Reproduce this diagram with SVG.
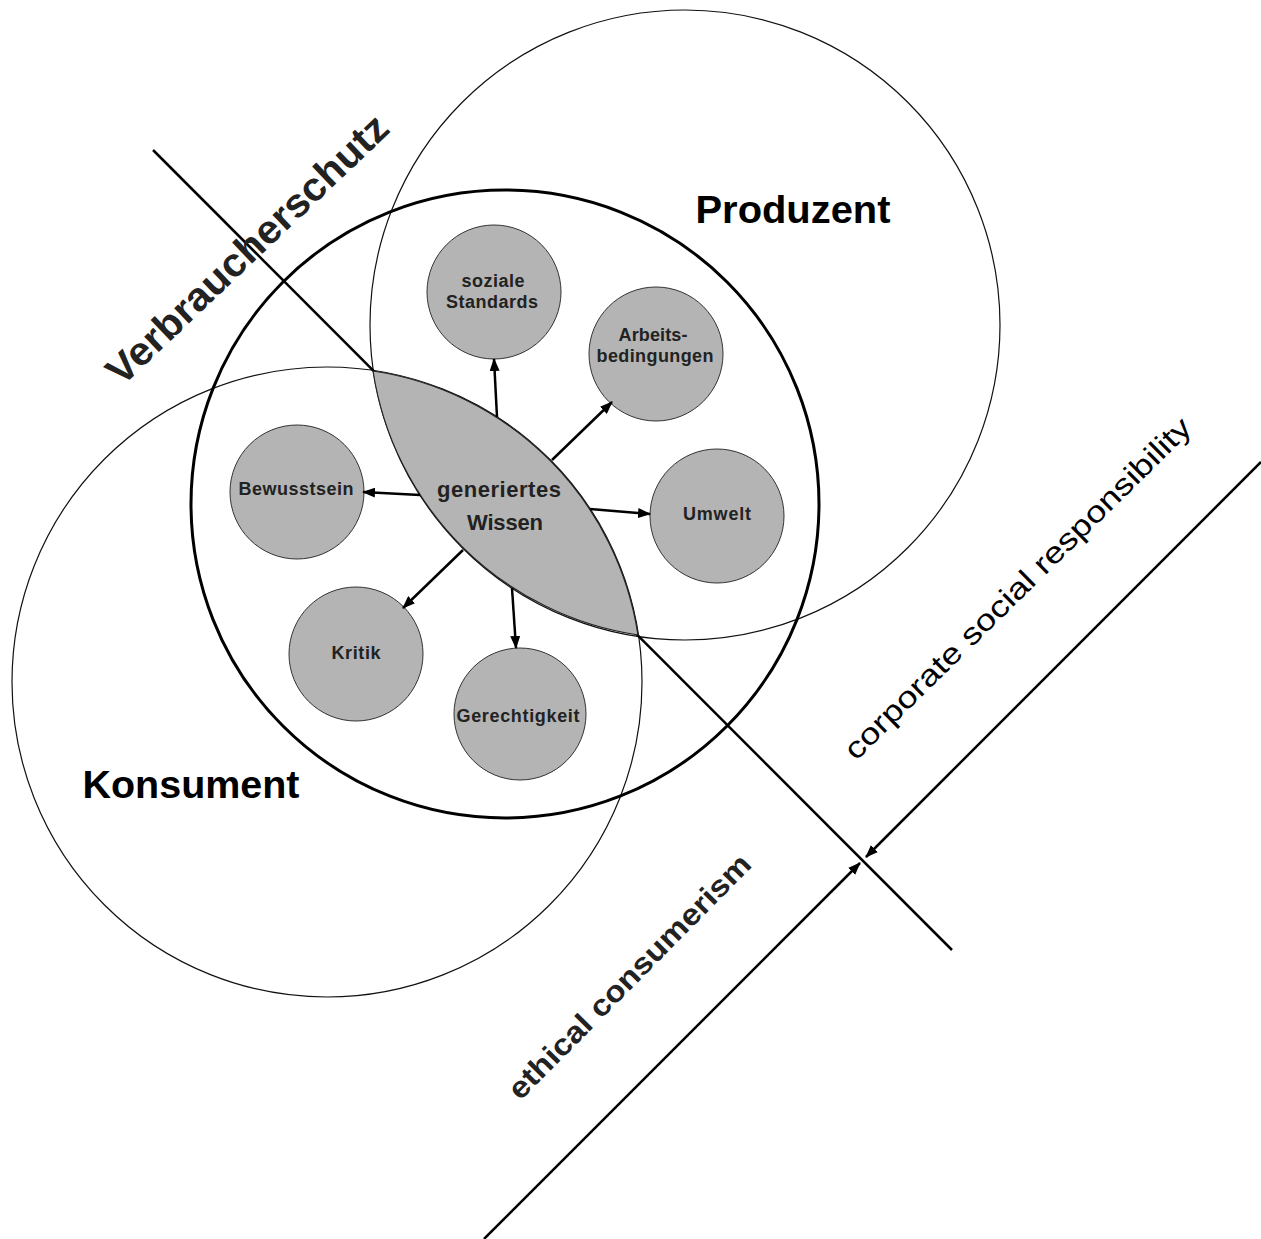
<svg xmlns="http://www.w3.org/2000/svg" width="1261" height="1239" viewBox="0 0 1261 1239">
<style>
.big{fill:none;stroke:#111;stroke-width:1.2}
.thick{fill:none;stroke:#000;stroke-width:3}
.node{fill:#b4b4b4;stroke:#333;stroke-width:1}
.lens{fill:#b4b4b4;stroke:#222;stroke-width:1.2}
.ln{stroke:#000;stroke-width:2.5;fill:none}
.arr{stroke:#000;stroke-width:2.5;fill:none;marker-end:url(#ah)}
.t{font-family:"Liberation Sans",Arial,sans-serif;font-weight:bold;fill:#222;text-anchor:middle}
.s{font-size:18px}
.L{font-size:38px;fill:#000}
</style>
<defs>
<marker id="ah" markerUnits="userSpaceOnUse" markerWidth="14" markerHeight="10" refX="12" refY="5" orient="auto">
<path d="M0,0 L13,5 L0,10 Z" fill="#000"/>
</marker>
</defs>
<rect width="1261" height="1239" fill="#fff"/>
<g id="produzent-circle"><circle class="big" cx="685" cy="325" r="315"/></g>
<g id="konsument-circle"><circle class="big" cx="327" cy="682" r="315"/></g>
<g id="connectors">
<line class="ln" x1="153" y1="150" x2="952" y2="950"/>
<line class="arr" x1="484" y1="1239" x2="860" y2="863"/>
<line class="arr" x1="1261" y1="462" x2="866" y2="857"/>
</g>
<g id="generiertes-wissen">
<path class="lens" d="M373,371 A315,315 0 0 1 638,635 A315,315 0 0 1 373,371 Z"/>
<text class="t" font-size="22" x="499" y="497" textLength="124" lengthAdjust="spacing">generiertes</text>
<text class="t" font-size="22" x="505" y="530" textLength="76" lengthAdjust="spacing">Wissen</text>
</g>
<g id="wissen-circle"><circle class="thick" cx="505" cy="504" r="314"/></g>
<g id="soziale-standards">
<circle class="node" cx="494" cy="292" r="67"/>
<text class="t s" x="493" y="287" textLength="63" lengthAdjust="spacing">soziale</text>
<text class="t s" x="492" y="308" textLength="92" lengthAdjust="spacing">Standards</text>
</g>
<g id="arbeitsbedingungen">
<circle class="node" cx="656" cy="354" r="67"/>
<text class="t s" x="653" y="341" textLength="69" lengthAdjust="spacing">Arbeits-</text>
<text class="t s" x="655" y="362" textLength="117" lengthAdjust="spacing">bedingungen</text>
</g>
<g id="umwelt">
<circle class="node" cx="717" cy="516" r="67"/>
<text class="t s" x="717" y="520" textLength="68" lengthAdjust="spacing">Umwelt</text>
</g>
<g id="bewusstsein">
<circle class="node" cx="297" cy="492" r="67"/>
<text class="t s" x="296" y="495" textLength="115" lengthAdjust="spacing">Bewusstsein</text>
</g>
<g id="kritik">
<circle class="node" cx="356" cy="654" r="67"/>
<text class="t s" x="356" y="659" textLength="49" lengthAdjust="spacing">Kritik</text>
</g>
<g id="gerechtigkeit">
<circle class="node" cx="520" cy="714" r="66"/>
<text class="t s" x="518" y="722" textLength="123" lengthAdjust="spacing">Gerechtigkeit</text>
</g>
<g id="arrows">
<line class="arr" x1="497" y1="417" x2="494" y2="359"/>
<line class="arr" x1="552" y1="460" x2="612" y2="402"/>
<line class="arr" x1="590" y1="509" x2="650" y2="514"/>
<line class="arr" x1="420" y1="495" x2="363" y2="492"/>
<line class="arr" x1="463" y1="550" x2="403" y2="608"/>
<line class="arr" x1="512" y1="588" x2="516" y2="648"/>
</g>
<g id="labels">
<text class="t L" x="793" y="223" textLength="195" lengthAdjust="spacingAndGlyphs">Produzent</text>
<text class="t L" x="191" y="798" textLength="217" lengthAdjust="spacingAndGlyphs">Konsument</text>
<text class="t" font-size="40" fill="#000" transform="translate(247,249) rotate(-43.5)" x="0" y="14" textLength="372" lengthAdjust="spacingAndGlyphs">Verbraucherschutz</text>
<text class="t" font-size="30" font-weight="normal" style="font-weight:normal;fill:#000" transform="translate(1019,590) rotate(-44.5)" x="0" y="8" textLength="473" lengthAdjust="spacingAndGlyphs">corporate social responsibility</text>
<text class="t" font-size="30" fill="#000" transform="translate(631,978) rotate(-45.3)" x="0" y="8" textLength="331" lengthAdjust="spacingAndGlyphs">ethical consumerism</text>
</g>
</svg>
